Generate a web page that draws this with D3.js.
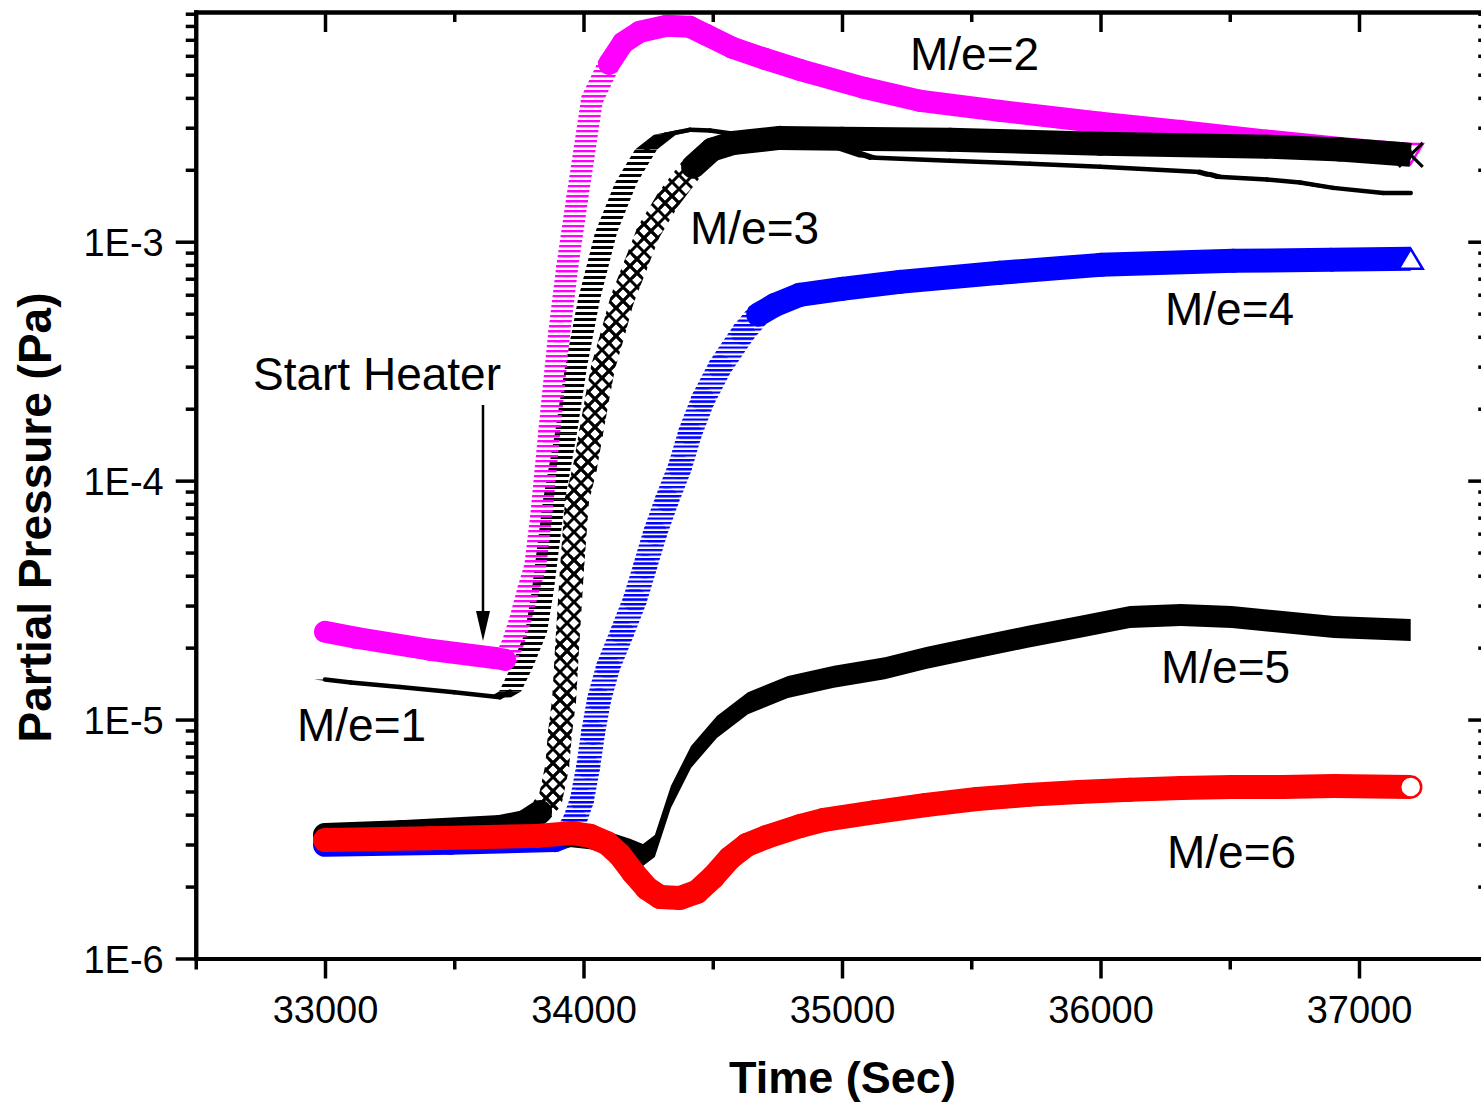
<!DOCTYPE html>
<html>
<head>
<meta charset="utf-8">
<script src="https://cdn.jsdelivr.net/npm/d3@7"></script>
<style>
  body { margin: 0; background: #fff; }
  svg { display: block; }
</style>
</head>
<body>
<svg id="chart" width="1481" height="1105"></svg>
<script>
// ---------------- DATA ----------------
const seriesNames = ["M/e=1", "M/e=2", "M/e=3", "M/e=4", "M/e=5", "M/e=6"];

const me1Time  = [33000, 33100, 33290, 33500, 33677, 33716, 33762, 33816, 33843, 33862, 33886, 33932, 33971, 34021, 34087, 34164, 34242, 34315, 34412, 34489, 34683, 34992, 35108, 35417, 35727, 36000, 36385, 36451, 36644, 36772, 36900, 37094, 37200];
const me1Value = [1.47e-5, 1.43e-5, 1.37e-5, 1.30e-5, 1.24e-5, 1.31e-5, 1.66e-5, 2.31e-5, 3.49e-5, 5.13e-5, 8.31e-5, 1.58e-4, 2.99e-4, 5.71e-4, 1.09e-3, 1.76e-3, 2.43e-3, 2.80e-3, 2.94e-3, 2.92e-3, 2.73e-3, 2.48e-3, 2.25e-3, 2.18e-3, 2.12e-3, 2.06e-3, 1.96e-3, 1.87e-3, 1.82e-3, 1.77e-3, 1.68e-3, 1.60e-3, 1.60e-3];

const me2Time  = [33000, 33120, 33406, 33658, 33697, 33724, 33755, 33786, 33813, 33836, 33867, 33906, 33937, 33975, 34033, 34099, 34153, 34218, 34322, 34411, 34473, 34577, 34701, 34836, 35084, 35301, 35610, 36000, 36308, 36644, 36927, 37200];
const me2Value = [2.33e-5, 2.20e-5, 1.96e-5, 1.81e-5, 1.78e-5, 2.05e-5, 2.61e-5, 3.49e-5, 4.36e-5, 7.05e-5, 1.58e-4, 4.15e-4, 7.85e-4, 1.50e-3, 3.93e-3, 5.55e-3, 6.80e-3, 7.56e-3, 8.01e-3, 7.93e-3, 7.35e-3, 6.48e-3, 5.83e-3, 5.24e-3, 4.41e-3, 3.89e-3, 3.53e-3, 3.15e-3, 2.91e-3, 2.65e-3, 2.47e-3, 2.33e-3];

const me3Time  = [33000, 33290, 33677, 33774, 33832, 33871, 33898, 33909, 33925, 33936, 33956, 33975, 34006, 34029, 34052, 34076, 34114, 34149, 34199, 34250, 34327, 34424, 34497, 34578, 34760, 35000, 35418, 36000, 36644, 36927, 37159, 37200];
const me3Value = [3.29e-6, 3.38e-6, 3.55e-6, 3.73e-6, 4.10e-6, 4.61e-6, 6.34e-6, 8.79e-6, 1.21e-5, 1.96e-5, 4.36e-5, 8.31e-5, 1.14e-4, 1.58e-4, 2.18e-4, 2.99e-4, 4.15e-4, 5.71e-4, 7.85e-4, 1.09e-3, 1.50e-3, 2.06e-3, 2.43e-3, 2.59e-3, 2.72e-3, 2.70e-3, 2.67e-3, 2.57e-3, 2.50e-3, 2.43e-3, 2.33e-3, 2.31e-3];

const me4Time  = [33000, 33483, 33890, 33933, 33967, 33994, 34018, 34037, 34060, 34095, 34149, 34199, 34238, 34277, 34323, 34373, 34412, 34462, 34528, 34617, 34676, 34741, 34836, 35000, 35224, 35611, 36000, 36514, 36889, 37200];
const me4Value = [2.99e-6, 3.05e-6, 3.13e-6, 3.26e-6, 3.80e-6, 4.61e-6, 6.34e-6, 8.79e-6, 1.21e-5, 1.66e-5, 2.31e-5, 3.17e-5, 4.36e-5, 6.04e-5, 8.31e-5, 1.14e-4, 1.58e-4, 2.18e-4, 2.99e-4, 4.15e-4, 4.95e-4, 5.44e-4, 5.99e-4, 6.35e-4, 6.79e-4, 7.41e-4, 8.00e-4, 8.32e-4, 8.40e-4, 8.48e-4];

const me5Time  = [33000, 33483, 33909, 34025, 34103, 34180, 34230, 34276, 34338, 34416, 34516, 34636, 34791, 34969, 35166, 35325, 35522, 35719, 35917, 36114, 36311, 36508, 36705, 36903, 37200];
const me5Value = [3.19e-6, 3.23e-6, 3.29e-6, 3.19e-6, 3.04e-6, 2.85e-6, 2.71e-6, 2.96e-6, 4.74e-6, 6.98e-6, 9.31e-6, 1.17e-5, 1.37e-5, 1.51e-5, 1.64e-5, 1.81e-5, 2.01e-5, 2.22e-5, 2.44e-5, 2.69e-5, 2.74e-5, 2.69e-5, 2.56e-5, 2.44e-5, 2.37e-5];

const me6Time  = [33000, 33406, 33820, 33959, 34025, 34091, 34141, 34191, 34245, 34296, 34373, 34439, 34501, 34566, 34632, 34709, 34837, 34930, 35128, 35325, 35522, 35719, 35917, 36114, 36311, 36508, 36705, 36903, 37200];
const me6Value = [3.13e-6, 3.19e-6, 3.26e-6, 3.35e-6, 3.26e-6, 3.04e-6, 2.71e-6, 2.30e-6, 1.97e-6, 1.81e-6, 1.79e-6, 1.90e-6, 2.19e-6, 2.63e-6, 2.99e-6, 3.23e-6, 3.58e-6, 3.80e-6, 4.10e-6, 4.39e-6, 4.65e-6, 4.84e-6, 4.98e-6, 5.08e-6, 5.17e-6, 5.22e-6, 5.22e-6, 5.27e-6, 5.22e-6];

const xTickValues  = [33000, 34000, 35000, 36000, 37000];
const xTickLabels  = ["33000", "34000", "35000", "36000", "37000"];
const xMinorValues = [32500, 33500, 34500, 35500, 36500, 37500];
const yTickValues  = [1e-6, 1e-5, 1e-4, 1e-3];
const yTickLabels  = ["1E-6", "1E-5", "1E-4", "1E-3"];
const yMinorMultipliers = [2, 3, 4, 5, 6, 7, 8, 9];
const xTitle = "Time (Sec)";
const yTitle = "Partial Pressure (Pa)";
const annotationText = "Start Heater";

// ---------------- LAYOUT ----------------
const W = 1481, H = 1105;
const L = 195.75, R = 1488.25, T = 12, B = 958.5;
const FONT = '"Liberation Sans", Arial, Helvetica, sans-serif';

const x = d3.scaleLinear().domain([32500, 37500]).range([L, R]);
const y = d3.scaleLog().domain([1e-6, 9.15e-3]).range([B, T]);

const svg = d3.select("#chart");
svg.append("rect").attr("width", W).attr("height", H).attr("fill", "#fff");
const defs = svg.append("defs");
defs.append("clipPath").attr("id", "plotClip")
  .append("rect").attr("x", L).attr("y", T).attr("width", R - L).attr("height", B - T);

function stripePattern(id, color, period, thick) {
  const p = defs.append("pattern").attr("id", id).attr("patternUnits", "userSpaceOnUse")
    .attr("width", 10).attr("height", period);
  p.append("rect").attr("x", 0).attr("y", 0).attr("width", 10).attr("height", thick).attr("fill", color);
}
stripePattern("hatchPink", "#ff00ff", 5, 2.3);
stripePattern("hatchBlue", "#0000ff", 4.5, 2.2);
stripePattern("hatchDash", "#000000", 6, 3);
const cp = defs.append("pattern").attr("id", "hatchCross").attr("patternUnits", "userSpaceOnUse")
  .attr("width", 14).attr("height", 14);
cp.append("path").attr("d", "M-2,-2L16,16M16,-2L-2,16").attr("stroke", "#000").attr("stroke-width", 3);

const toPts = (ts, vs) => ts.map((t, i) => ({ t: t, v: vs[i] }));
const lineGen = d3.line().x(d => x(d.t)).y(d => y(d.v));
const isSteep = (a, b, k) => Math.abs(y(b.v) - y(a.v)) > k * Math.abs(x(b.t) - x(a.t));

const plot = svg.append("g").attr("clip-path", "url(#plotClip)");

// thick band made of overlapping open markers
function strokeBand(data, color, hatch, width, k) {
  const g = plot.append("g");
  const steepG = g.append("g"), flatG = g.append("g");
  const segs = d3.pairs(data);
  segs.forEach(([a, b], i) => {
    const steep = hatch && isSteep(a, b, k);
    (steep ? steepG : flatG).append("path")
      .attr("d", lineGen([a, b]))
      .attr("fill", "none")
      .attr("stroke", steep ? `url(#${hatch})` : color)
      .attr("stroke-width", width)
      .attr("stroke-linecap", i === segs.length - 1 ? "butt" : "round")
      .attr("stroke-linejoin", "round");
  });
  return g;
}

// horizontal-dash markers (M/e=1)
function dashBand(data) {
  const g = plot.append("g");
  d3.pairs(data).forEach(([a, b]) => {
    const x1 = x(a.t), y1 = y(a.v), x2 = x(b.t), y2 = y(b.v);
    const steep = isSteep(a, b, 1.5);
    const poly = [[x1 - 11, y1], [x1 + 11, y1], [x2 + 11, y2], [x2 - 11, y2]];
    g.append("path").attr("d", d3.line()(poly) + "Z")
      .attr("fill", steep ? "url(#hatchDash)" : "#000");
    if (!steep) {
      g.append("path").attr("d", lineGen([a, b])).attr("fill", "none")
        .attr("stroke", "#000").attr("stroke-width", 4.5).attr("stroke-linecap", "round");
    }
  });
}

// vertical-bar markers (M/e=5)
function barBand(data) {
  const area = d3.area().x(d => x(d.t)).y0(d => y(d.v) - 11).y1(d => y(d.v) + 11);
  plot.append("path").attr("d", area(data)).attr("fill", "#000");
}

function endMarker(d, kind, color) {
  const cx = x(d.t), cy = y(d.v);
  const g = plot.append("g").attr("transform", `translate(${cx},${cy})`);
  if (kind === "tridown") {
    g.append("path").attr("d", "M0,10L-12,-10L12,-10Z").attr("fill", "#fff").attr("stroke", color).attr("stroke-width", 2.5);
  } else if (kind === "triup") {
    g.append("path").attr("d", "M0,-10L-12,10L12,10Z").attr("fill", "#fff").attr("stroke", color).attr("stroke-width", 2.5);
  } else if (kind === "circle") {
    g.append("circle").attr("r", 10.5).attr("fill", "#fff").attr("stroke", color).attr("stroke-width", 2.5);
  } else if (kind === "cross") {
    g.append("path").attr("d", "M-12,-12L12,12M12,-12L-12,12").attr("stroke", color).attr("stroke-width", 3.2);
  }
}

const d1 = toPts(me1Time, me1Value);
const d2 = toPts(me2Time, me2Value);
const d3s = toPts(me3Time, me3Value);
const d4 = toPts(me4Time, me4Value);
const d5 = toPts(me5Time, me5Value);
const d6 = toPts(me6Time, me6Value);

dashBand(d1);
strokeBand(d2, "#ff00ff", "hatchPink", 22, 1.6);
endMarker(d2[d2.length - 1], "tridown", "#ff00ff");
strokeBand(d3s, "#000000", "hatchCross", 24, 1.2);
endMarker(d3s[d3s.length - 1], "cross", "#000000");
strokeBand(d4, "#0000ff", "hatchBlue", 24, 0.8);
endMarker(d4[d4.length - 1], "triup", "#0000ff");
barBand(d5);
strokeBand(d6, "#ff0000", null, 24, 99);
endMarker(d6[d6.length - 1], "circle", "#ff0000");

// ---------------- AXES ----------------
const yMinorValues = [];
yTickValues.forEach(dec => yMinorMultipliers.forEach(m => { if (dec * m <= y.domain()[1]) yMinorValues.push(dec * m); }));

function styleAxis(g) {
  g.attr("font-family", FONT).attr("font-size", 38);
  g.selectAll("path.domain").attr("stroke", "#000").attr("stroke-width", 4).attr("stroke-linecap", "square");
  g.selectAll(".tick line").attr("stroke", "#000").attr("stroke-width", 3.5);
  g.selectAll(".tick text").attr("fill", "#000");
}
const axesG = svg.append("g");
// bottom
axesG.append("g").attr("transform", `translate(0,${B})`)
  .call(d3.axisBottom(x).tickValues(xMinorValues).tickSize(11).tickSizeOuter(0).tickFormat(""))
  .call(styleAxis);
axesG.append("g").attr("transform", `translate(0,${B})`)
  .call(d3.axisBottom(x).tickValues(xTickValues).tickSize(20).tickSizeOuter(0).tickFormat((d, i) => xTickLabels[i]))
  .call(styleAxis)
  .call(g => g.selectAll(".tick text").attr("y", 64.5).attr("dy", "0"));
// top
axesG.append("g").attr("transform", `translate(0,${T})`)
  .call(d3.axisTop(x).tickValues(xMinorValues).tickSize(-10).tickSizeOuter(0).tickFormat(""))
  .call(styleAxis);
axesG.append("g").attr("transform", `translate(0,${T})`)
  .call(d3.axisTop(x).tickValues(xTickValues).tickSize(-20).tickSizeOuter(0).tickFormat(""))
  .call(styleAxis);
// left
axesG.append("g").attr("transform", `translate(${L},0)`)
  .call(d3.axisLeft(y).tickValues(yMinorValues).tickSize(10).tickSizeOuter(0).tickFormat(""))
  .call(styleAxis);
axesG.append("g").attr("transform", `translate(${L},0)`)
  .call(d3.axisLeft(y).tickValues(yTickValues).tickSize(20).tickPadding(12).tickSizeOuter(0).tickFormat((d, i) => yTickLabels[i]))
  .call(styleAxis)
  .call(g => g.selectAll(".tick text").attr("dy", "0.355em"));
// right
axesG.append("g").attr("transform", `translate(${R},0)`)
  .call(d3.axisRight(y).tickValues(yMinorValues).tickSize(-10).tickSizeOuter(0).tickFormat(""))
  .call(styleAxis);
axesG.append("g").attr("transform", `translate(${R},0)`)
  .call(d3.axisRight(y).tickValues(yTickValues).tickSize(-20).tickSizeOuter(0).tickFormat(""))
  .call(styleAxis);

// titles
svg.append("text").attr("x", 842.5).attr("y", 1093).attr("text-anchor", "middle")
  .attr("font-family", FONT).attr("font-weight", "bold").attr("font-size", 45).attr("fill", "#000")
  .text(xTitle);
svg.append("text").attr("transform", "translate(51,517.5) rotate(-90)").attr("text-anchor", "middle")
  .attr("font-family", FONT).attr("font-weight", "bold").attr("font-size", 46).attr("fill", "#000")
  .text(yTitle);

// series labels
const labelPos = [[297, 741], [910, 70], [690, 244], [1165, 325], [1161, 683], [1167, 868]];
seriesNames.forEach((name, i) => {
  svg.append("text").attr("x", labelPos[i][0]).attr("y", labelPos[i][1])
    .attr("font-family", FONT).attr("font-size", 46).attr("fill", "#000").text(name);
});

// Start Heater annotation
svg.append("text").attr("x", 253).attr("y", 390)
  .attr("font-family", FONT).attr("font-size", 46).attr("fill", "#000").text(annotationText);
svg.append("line").attr("x1", 483).attr("y1", 405).attr("x2", 483).attr("y2", 615)
  .attr("stroke", "#000").attr("stroke-width", 2.5);
svg.append("path").attr("d", "M476,611L490,611L483,641Z").attr("fill", "#000");
</script>
</body>
</html>
